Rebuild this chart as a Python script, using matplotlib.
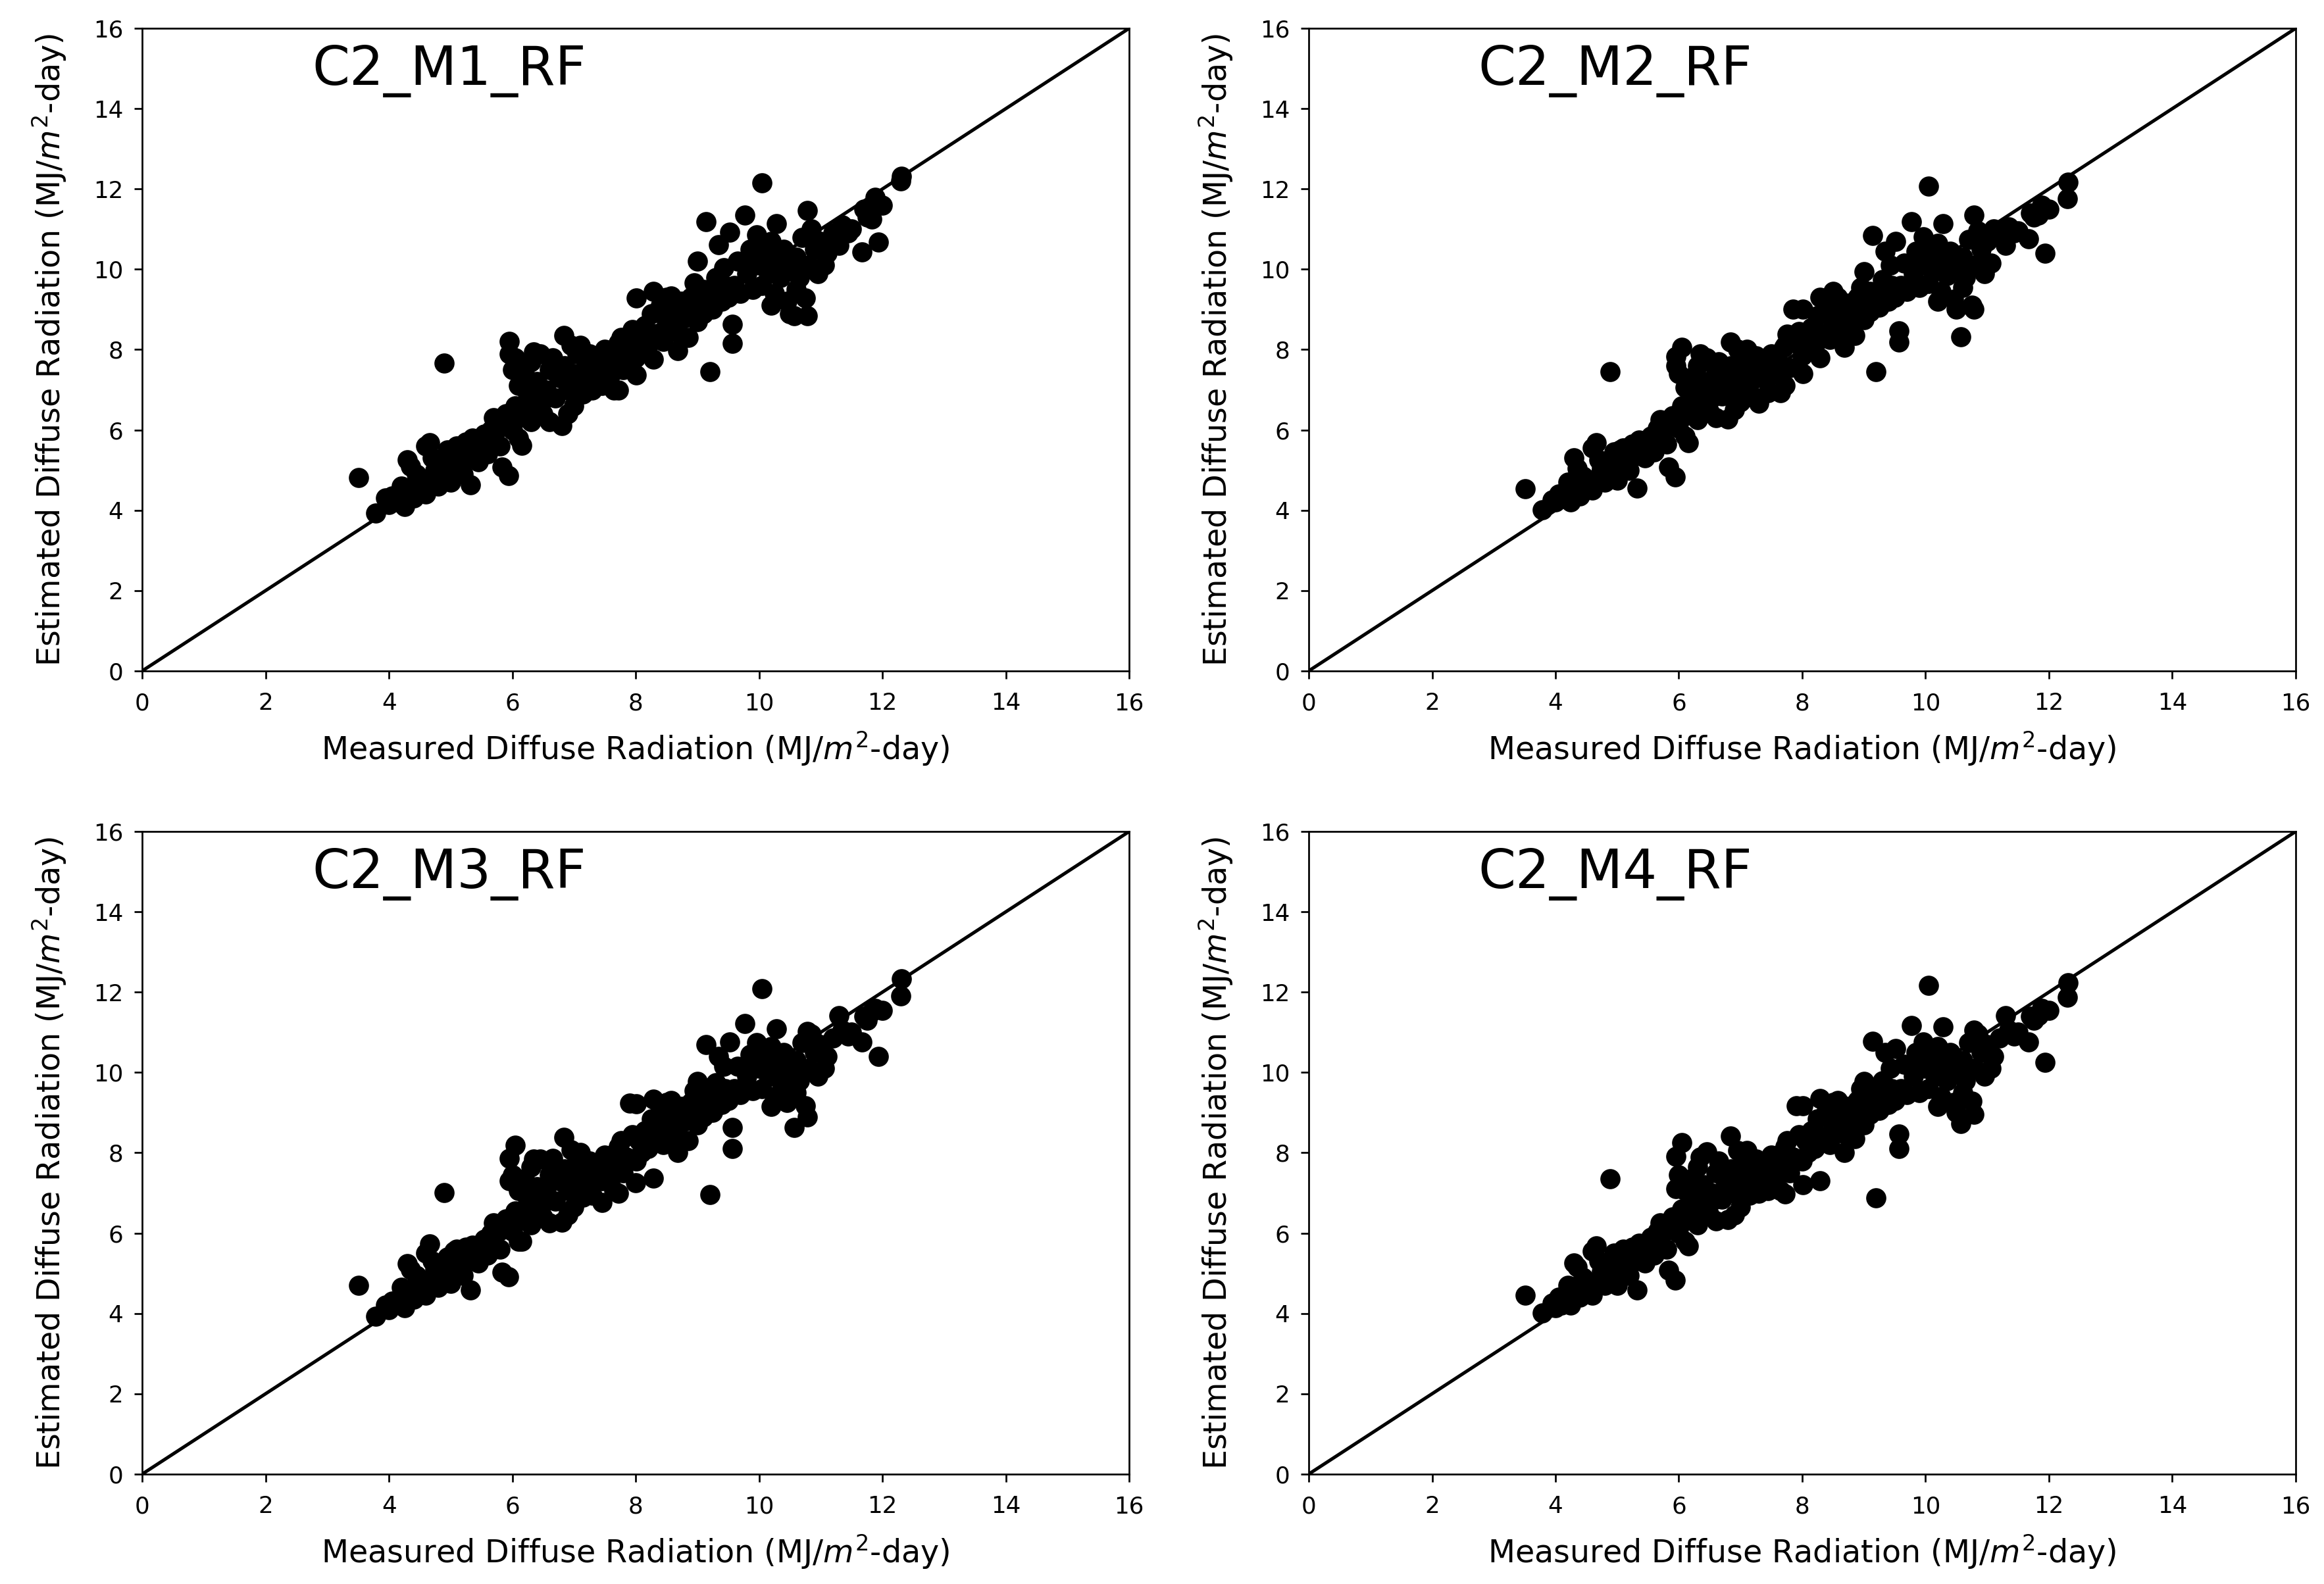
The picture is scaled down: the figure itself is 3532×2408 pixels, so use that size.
import numpy as np
import matplotlib
matplotlib.use('Agg')
import matplotlib.pyplot as plt

# --- Data ---
# measured diffuse radiation, same test days for all four models
measured = [
    3.51, 3.79, 3.95, 4.00, 4.05, 4.10, 4.20, 4.20, 4.25, 4.30, 4.30, 4.35, 4.40, 4.45, 4.45,
    4.55, 4.60, 4.60, 4.66, 4.70, 4.70, 4.75, 4.80, 4.85, 4.89, 4.90, 4.95, 5.00, 5.00, 5.05,
    5.10, 5.10, 5.15, 5.20, 5.25, 5.30, 5.32, 5.35, 5.40, 5.45,
    5.50, 5.55, 5.60, 5.65, 5.70, 5.70, 5.75, 5.80, 5.83, 5.85, 5.90, 5.94, 5.95, 5.95, 6.00,
    6.00, 6.05, 6.05, 6.10, 6.10, 6.10, 6.15, 6.20, 6.20, 6.25, 6.30, 6.30, 6.35, 6.35, 6.40,
    6.45, 6.45, 6.50,
    6.55, 6.60, 6.60, 6.65, 6.70, 6.70, 6.75, 6.80, 6.84, 6.85, 6.90, 6.90, 6.95, 7.00, 7.00,
    7.05, 7.10, 7.10, 7.15, 7.20, 7.25, 7.30, 7.30, 7.35, 7.40, 7.45, 7.45, 7.50,
    7.55, 7.60, 7.60, 7.65, 7.70, 7.72, 7.72, 7.76, 7.80, 7.85, 7.90, 7.95, 8.00, 8.01, 8.01,
    8.05, 8.10, 8.15, 8.20, 8.25, 8.29, 8.29, 8.35, 8.40, 8.45, 8.50, 8.50,
    8.58, 8.60, 8.65, 8.68, 8.70, 8.75, 8.80, 8.85, 8.90, 8.90, 8.95, 9.00, 9.00, 9.05, 9.10,
    9.10, 9.14, 9.20, 9.20, 9.25, 9.30, 9.34, 9.40, 9.43, 9.45, 9.50, 9.52, 9.57, 9.57,
    9.60, 9.65, 9.70, 9.77, 9.80, 9.85, 9.90, 9.90, 9.96, 10.00, 10.00, 10.05, 10.05, 10.10,
    10.15, 10.20, 10.20, 10.25, 10.28, 10.30, 10.35, 10.40, 10.45, 10.50, 10.50,
    10.57, 10.60, 10.60, 10.65, 10.70, 10.75, 10.78, 10.78, 10.80, 10.85, 10.90, 10.95, 11.00,
    11.06, 11.10, 11.20, 11.30, 11.35, 11.44, 11.50,
    11.67, 11.70, 11.75, 11.83, 11.88, 11.94, 12.00, 12.30, 12.31,
]

est_m1 = [
    4.81, 3.93, 4.30, 4.15, 4.35, 4.20, 4.40, 4.60, 4.10, 4.55, 5.25, 5.10, 4.30, 4.70, 4.90,
    4.50, 5.60, 4.40, 5.68, 4.80, 5.30, 5.00, 4.60, 5.20, 7.67, 4.90, 5.50, 5.30, 4.70, 5.50,
    5.10, 5.60, 5.40, 4.90, 5.70, 5.30, 4.64, 5.80, 5.60, 5.20,
    5.50, 5.90, 5.40, 6.00, 5.70, 6.30, 6.20, 5.60, 5.08, 6.10, 6.40, 4.86, 8.20, 7.90, 6.00,
    7.50, 6.60, 7.80, 7.10, 5.80, 6.30, 5.62, 6.50, 7.40, 6.90, 6.20, 7.70, 6.80, 7.95, 7.20,
    6.60, 7.90, 6.40,
    7.00, 7.50, 6.20, 7.80, 6.80, 7.60, 7.30, 6.11, 8.35, 7.60, 7.00, 6.40, 8.10, 6.60, 7.40,
    7.90, 7.20, 8.10, 6.90, 7.60, 7.90, 7.00, 7.30, 7.50, 7.80, 7.30, 7.10, 8.00,
    7.60, 7.90, 7.40, 7.00, 8.10, 7.00, 8.17, 8.30, 7.50, 7.90, 8.20, 8.50, 7.80, 7.37, 9.28,
    8.30, 8.00, 8.60, 8.10, 8.90, 7.76, 9.45, 8.40, 9.10, 8.20, 8.70, 9.30,
    9.34, 8.50, 9.00, 7.97, 8.40, 9.20, 8.80, 8.30, 9.00, 9.30, 9.66, 10.20, 8.70, 9.30, 8.90,
    9.50, 11.19, 7.45, 9.50, 9.00, 9.80, 10.62, 9.20, 10.04, 9.60, 9.30, 10.92, 8.63, 8.16,
    9.60, 10.20, 9.40, 11.35, 9.90, 10.50, 9.50, 10.20, 10.86, 10.10, 10.60, 12.15, 9.60, 10.40,
    9.90, 10.70, 9.10, 9.40, 11.14, 10.20, 9.80, 10.50, 9.20, 10.00, 8.90,
    8.84, 10.30, 9.50, 9.80, 10.80, 9.28, 8.84, 11.46, 10.10, 11.00, 10.50, 9.90, 10.70,
    10.10, 10.40, 10.90, 10.60, 11.10, 10.90, 11.00,
    10.43, 11.50, 11.30, 11.25, 11.79, 10.67, 11.60, 12.20, 12.31,
]

est_m2 = [
    4.53, 4.01, 4.25, 4.20, 4.40, 4.30, 4.45, 4.70, 4.20, 4.60, 5.30, 5.05, 4.35, 4.75, 4.85,
    4.55, 5.55, 4.50, 5.68, 4.85, 5.25, 5.05, 4.70, 5.15, 7.45, 4.95, 5.45, 5.35, 4.75, 5.50,
    5.15, 5.55, 5.45, 5.00, 5.65, 5.35, 4.56, 5.75, 5.60, 5.30,
    5.55, 5.85, 5.45, 6.05, 5.75, 6.25, 6.20, 5.65, 5.08, 6.10, 6.35, 4.83, 7.83, 7.60, 6.05,
    7.40, 6.60, 8.05, 7.05, 5.85, 6.35, 5.68, 6.50, 7.30, 6.90, 6.25, 7.60, 6.85, 7.90, 7.20,
    6.65, 7.80, 6.45,
    7.00, 7.45, 6.30, 7.70, 6.85, 7.55, 7.30, 6.27, 8.19, 7.60, 7.05, 6.50, 8.00, 6.70, 7.40,
    7.80, 7.25, 8.00, 6.95, 7.55, 7.85, 6.66, 7.30, 7.45, 7.75, 7.30, 6.93, 7.90,
    7.60, 7.85, 7.40, 6.93, 8.05, 7.10, 8.10, 8.38, 7.55, 9.00, 8.15, 8.45, 7.85, 7.40, 9.01,
    8.30, 8.05, 8.55, 8.10, 8.85, 7.80, 9.30, 8.40, 9.00, 8.25, 8.70, 9.45,
    9.30, 8.55, 9.00, 8.05, 8.45, 9.15, 8.80, 8.35, 9.00, 9.30, 9.55, 9.94, 8.75, 9.30, 8.95,
    9.45, 10.84, 7.45, 9.45, 9.05, 9.75, 10.45, 9.20, 10.10, 9.60, 9.30, 10.70, 8.47, 8.19,
    9.60, 10.15, 9.45, 11.19, 9.90, 10.45, 9.55, 10.20, 10.81, 10.10, 10.55, 12.07, 9.65, 10.35,
    9.95, 10.65, 9.20, 9.45, 11.14, 10.20, 9.85, 10.45, 9.25, 10.05, 9.00,
    8.32, 10.30, 9.55, 9.80, 10.75, 9.11, 9.00, 11.35, 10.10, 10.95, 10.50, 9.90, 10.70,
    10.15, 11.00, 10.85, 10.60, 11.05, 10.90, 10.95,
    10.76, 11.40, 11.30, 11.35, 11.60, 10.40, 11.50, 11.76, 12.17,
]

est_m3 = [
    4.70, 3.93, 4.20, 4.10, 4.30, 4.25, 4.40, 4.65, 4.15, 4.50, 5.24, 5.10, 4.35, 4.60, 4.95,
    4.55, 5.50, 4.45, 5.73, 4.80, 5.30, 5.10, 4.65, 5.25, 7.01, 4.95, 5.40, 5.30, 4.75, 5.55,
    5.10, 5.60, 5.40, 4.95, 5.65, 5.35, 4.59, 5.70, 5.55, 5.25,
    5.50, 5.85, 5.45, 6.00, 5.70, 6.25, 6.15, 5.60, 5.02, 6.10, 6.35, 4.91, 7.86, 7.31, 6.05,
    7.45, 6.55, 8.19, 7.05, 5.80, 6.30, 5.79, 6.50, 7.35, 6.85, 6.20, 7.65, 6.80, 7.85, 7.15,
    6.60, 7.85, 6.40,
    7.00, 7.45, 6.25, 7.86, 6.80, 7.55, 7.30, 6.27, 8.38, 7.60, 7.05, 6.45, 8.08, 6.65, 7.40,
    7.85, 7.20, 8.00, 6.90, 7.55, 7.80, 6.95, 7.30, 7.45, 7.75, 7.30, 6.77, 7.95,
    7.60, 7.85, 7.40, 7.05, 8.05, 7.00, 8.15, 8.30, 7.50, 7.90, 9.23, 8.45, 7.26, 7.80, 9.22,
    8.30, 8.00, 8.55, 8.10, 8.85, 7.37, 9.34, 8.40, 9.05, 8.20, 8.65, 9.25,
    9.30, 8.50, 9.00, 8.00, 8.40, 9.15, 8.80, 8.30, 9.00, 9.25, 9.55, 9.77, 8.70, 9.30, 8.90,
    9.45, 10.70, 6.96, 9.45, 9.00, 9.75, 10.40, 9.20, 10.15, 9.60, 9.30, 10.76, 8.63, 8.10,
    9.60, 10.15, 9.45, 11.22, 9.90, 10.45, 9.55, 10.20, 10.75, 10.10, 10.55, 12.09, 9.60, 10.40,
    9.90, 10.65, 9.15, 9.40, 11.08, 10.20, 9.80, 10.50, 9.25, 10.00, 9.50,
    8.63, 10.30, 9.50, 9.80, 10.75, 9.17, 8.90, 11.03, 10.10, 10.95, 10.50, 9.90, 10.70,
    10.10, 10.40, 10.85, 11.41, 11.05, 10.90, 11.00,
    10.76, 11.40, 11.30, 11.52, 11.60, 10.40, 11.55, 11.90, 12.34,
]

est_m4 = [
    4.45, 4.01, 4.25, 4.15, 4.40, 4.20, 4.50, 4.70, 4.20, 4.55, 5.25, 5.15, 4.40, 4.70, 4.90,
    4.50, 5.55, 4.45, 5.68, 4.85, 5.30, 5.05, 4.70, 5.20, 7.35, 4.90, 5.50, 5.35, 4.70, 5.50,
    5.15, 5.60, 5.40, 4.95, 5.65, 5.30, 4.59, 5.75, 5.55, 5.25,
    5.50, 5.90, 5.45, 6.05, 5.70, 6.25, 6.20, 5.60, 5.08, 6.10, 6.40, 4.83, 7.91, 7.10, 6.00,
    7.45, 6.60, 8.25, 7.05, 5.80, 6.30, 5.68, 6.55, 7.35, 6.90, 6.20, 7.65, 6.85, 7.90, 7.20,
    6.60, 8.03, 6.45,
    7.00, 7.50, 6.30, 7.80, 6.85, 7.60, 7.30, 6.33, 8.41, 7.60, 7.00, 6.45, 8.05, 6.65, 7.40,
    7.85, 7.25, 8.05, 6.95, 7.60, 7.85, 7.00, 7.30, 7.50, 7.80, 7.30, 7.05, 7.95,
    7.60, 7.85, 7.40, 7.05, 8.05, 6.98, 8.15, 8.30, 7.50, 7.90, 9.17, 8.45, 7.80, 7.20, 9.17,
    8.30, 8.00, 8.55, 8.10, 8.85, 7.31, 9.35, 8.40, 9.05, 8.20, 8.70, 9.25,
    9.30, 8.55, 9.00, 8.00, 8.45, 9.15, 8.80, 8.35, 9.00, 9.30, 9.60, 9.77, 8.70, 9.30, 8.95,
    9.50, 10.78, 6.88, 9.45, 9.05, 9.80, 10.50, 9.20, 10.10, 9.60, 9.30, 10.60, 8.47, 8.10,
    9.60, 10.20, 9.45, 11.17, 9.90, 10.50, 9.50, 10.20, 10.76, 10.10, 10.55, 12.17, 9.60, 10.40,
    9.90, 10.65, 9.15, 9.40, 11.14, 10.20, 9.80, 10.50, 9.25, 10.05, 9.00,
    8.73, 10.30, 9.50, 9.80, 10.75, 9.28, 8.95, 11.05, 10.10, 10.95, 10.50, 9.90, 10.70,
    10.10, 10.40, 10.85, 11.41, 11.05, 10.90, 11.00,
    10.76, 11.40, 11.30, 11.41, 11.60, 10.26, 11.55, 11.87, 12.23,
]

model_names = ['C2_M1_RF', 'C2_M2_RF', 'C2_M3_RF', 'C2_M4_RF']
estimates = [est_m1, est_m2, est_m3, est_m4]
axis_ticks = [0, 2, 4, 6, 8, 10, 12, 14, 16]

for name, est in zip(model_names, estimates):
    if len(est) != len(measured):
        print(f"--- WARNING --- {name}: {len(est)} estimates vs {len(measured)} measured")

# --- Plot ---
fig, axes = plt.subplots(2, 2, figsize=(3532 / 245, 2408 / 245), dpi=245)
fig.subplots_adjust(left=0.0612, right=0.9878, top=0.9821, bottom=0.0694,
                    wspace=0.182, hspace=0.25)

for ax, name, est in zip(axes.flat, model_names, estimates):
    ax.scatter(measured, est, s=64, color='black', zorder=3)
    ax.plot([0, 16], [0, 16], color='black', linewidth=1.5, zorder=2)
    ax.set_xlim(0, 16)
    ax.set_ylim(0, 16)
    ax.set_xticks(axis_ticks)
    ax.set_yticks(axis_ticks)
    ax.tick_params(axis='x', labelsize=10.5, pad=6)
    ax.tick_params(axis='y', labelsize=10.5, pad=5)
    ax.set_xlabel('Measured Diffuse Radiation (MJ/$m^2$-day)', fontsize=14, labelpad=7)
    ax.set_ylabel('Estimated Diffuse Radiation (MJ/$m^2$-day)', fontsize=14, labelpad=11)
    ax.text(2.75, 14.6, name, fontsize=24, va='baseline')

fig.savefig('out.png', dpi=245)
print("Saved out.png")
